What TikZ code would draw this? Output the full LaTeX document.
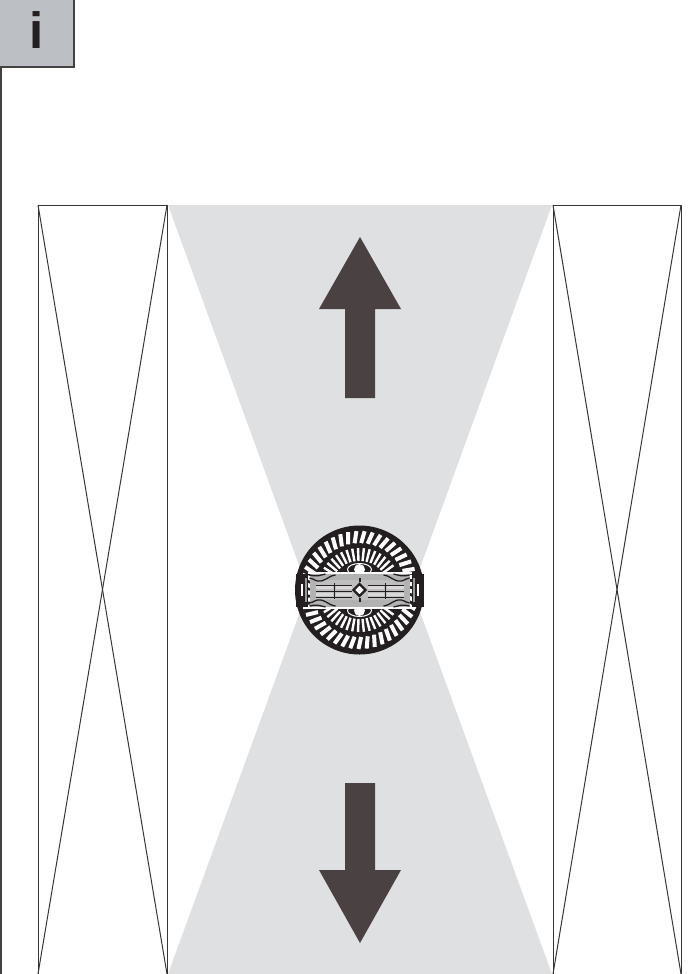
\documentclass[tikz,border=0pt]{standalone}
\usepackage{fontspec}
\setmainfont{Liberation Sans}
\usetikzlibrary{calc}

\definecolor{beam}{HTML}{DFE0E2}
\definecolor{tab}{HTML}{BCBFC4}
\definecolor{darrow}{HTML}{4A4142}
\definecolor{ink}{HTML}{231F20}

\tikzset{
    wall/.style={draw=ink!90!white, line width=1pt},
    bigarrow/.style={fill=darrow, draw=none},
    slot/.style={draw=white, line cap=butt},
    fandetail/.style={draw=ink, line width=1.3pt}
}

\begin{document}
\begin{tikzpicture}[x=1pt, y=-1pt]

\useasboundingbox (0, 0) rectangle (696, 974);

% light beams
\fill [beam] (168, 205) -- (552, 205) -- (412, 590) -- (552, 974) -- (168, 974) -- (308, 590) -- cycle;

% side walls
\draw [wall] (38, 974) -- (38, 205) -- (167, 205) -- (167, 974);
\draw [wall] (38, 205) -- (167, 974);
\draw [wall] (167, 205) -- (38, 974);
\draw [wall] (553, 974) -- (553, 205) -- (681, 205) -- (681, 974);
\draw [wall] (553, 205) -- (681, 974);
\draw [wall] (681, 205) -- (553, 974);

% arrows
\fill [bigarrow] (360, 237) -- (401, 309) -- (375, 309) -- (375, 398) -- (345, 398) -- (345, 309) -- (319, 309) -- cycle;
\fill [bigarrow] (360, 943) -- (401, 870) -- (375, 870) -- (375, 783) -- (345, 783) -- (345, 870) -- (319, 870) -- cycle;

% tab in the corner
\draw [fill=tab, draw=ink!85!white, line width=1.6pt] (-2, -2) rectangle (74, 67);
\draw [draw=ink!85!white, line width=1.6pt] (1, 67) -- (1, 974);
\node (info) at (37, 30) [inner sep=0pt, text=ink] {\fontsize{51}{51}\selectfont\bfseries i};

% the lamp seen from below
\begin{scope}[shift={(359.5, 590)}]
    \fill [ink] (0, 0) circle (64.5);
    \foreach \a in {0, 8, ..., 352} {
        \draw [slot, line width=4pt] (\a:47) -- (\a+3:59);
    }
    \fill [ink] (0, 0) circle (45);
    \foreach \a in {36, 44, ..., 148} {
        \draw [slot, line width=2.4pt] (\a:29) -- (\a:42);
        \draw [slot, line width=2.4pt] (-\a:29) -- (-\a:42);
    }
    \fill [ink] (0, 0) ellipse (30 and 27);

    % lenses
    \foreach \s in {-1, 1} {
        \fill [ink] (0, 20.5*\s) ellipse (18 and 8);
        \draw [white, line width=1pt] (0, 20.5*\s) ellipse (12 and 6);
        \fill [white] (0, 20.5*\s) circle (5.5);
    }

    % centre plate
    \fill [black!30] (-50, -17) rectangle (50, 18);
    \draw [white, line width=1.6pt] (-52, -17) -- (52, -17) (-52, 18) -- (52, 18);
    \fill [black!25] (-44, -10) rectangle (44, 10);
    \foreach \s in {-1, 1} {
        % end block
        \fill [ink] (\s*64, -16) -- (\s*52, -16) -- (\s*52, 17) -- (\s*64, 17) -- cycle;
        \fill [white] (\s*59, -6) rectangle (\s*57, 6);
        \fill [black!40] (\s*55, -12) rectangle (\s*53, 12);
        % bars
        \fill [white!85!black] (\s*8, -4) rectangle (\s*24, -1);
        \fill [white!85!black] (\s*8, 3) rectangle (\s*24, 6);
        \fill [white!85!black] (\s*27, -4) rectangle (\s*44, -1);
        \fill [white!85!black] (\s*27, 3) rectangle (\s*44, 6);
        \draw [fandetail, line width=0.9pt] (\s*8, -5) -- (\s*44, -5) (\s*8, 1) -- (\s*44, 1) (\s*8, 7) -- (\s*44, 7);
        \draw [fandetail, line width=0.9pt] (\s*25.5, -7) -- (\s*25.5, 9);
        % curled corners
        \draw [fandetail] (\s*24, -15) .. controls (\s*32, -14) and (\s*34, -8) .. (\s*42, -9) .. controls (\s*46, -10) and (\s*47, -12) .. (\s*50, -12);
        \draw [fandetail] (\s*24, 16) .. controls (\s*32, 15) and (\s*34, 9) .. (\s*42, 10) .. controls (\s*46, 11) and (\s*47, 13) .. (\s*50, 13);
        \draw [fandetail] (\s*34, -16) .. controls (\s*39, -15) and (\s*42, -13) .. (\s*50, -15);
        \draw [fandetail] (\s*34, 17) .. controls (\s*39, 16) and (\s*42, 14) .. (\s*50, 16);
    }
    \draw [ink, line width=2.2pt, fill=white] (0, -6) -- (6, 0) -- (0, 6) -- (-6, 0) -- cycle;
    \fill [ink] (-1, -12) rectangle (1, -8);
    \fill [ink] (-1, 8) rectangle (1, 12);
\end{scope}

\end{tikzpicture}
\end{document}
